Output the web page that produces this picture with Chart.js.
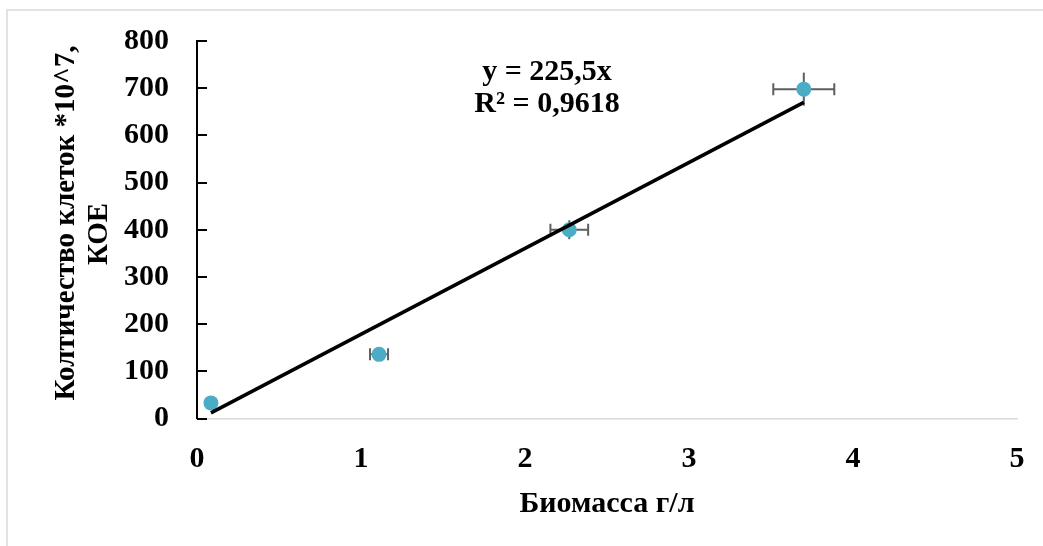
<!DOCTYPE html>
<html>
<head>
<meta charset="utf-8">
<script src="https://cdn.jsdelivr.net/npm/chart.js@4.4.0/dist/chart.umd.min.js"></script>
<style>
html,body{margin:0;padding:0;background:#fff;}
#wrap{width:1043px;height:546px;position:relative;}
</style>
</head>
<body>
<div id="wrap"><canvas id="c" width="1043" height="546"></canvas></div>
<script>
// Data
const biomass = [0.085, 1.11, 2.27, 3.70];      // x, г/л
const cells = [33, 136, 400, 698];              // y, *10^7 КОЕ
const xErr = [0, 0.055, 0.115, 0.186];
const yErr = [0, 0, 20, 35];
const trendX = [0.085, 3.70];
const trendY = [12, 670];
const xTicks = [0, 1, 2, 3, 4, 5];
const yTicks = [0, 100, 200, 300, 400, 500, 600, 700, 800];
const xTitle = 'Биомасса г/л';
const yTitle = ['Колтичество клеток *10^7,', 'КОЕ'];
const eqLines = ['y = 225,5x', 'R² = 0,9618'];

const FONT = '"Liberation Serif", "Times New Roman", serif';

const extras = {
  id: 'extras',
  beforeDraw(chart) {
    const ctx = chart.ctx;
    ctx.save();
    ctx.fillStyle = '#fff';
    ctx.fillRect(0, 0, chart.width, chart.height);
    ctx.strokeStyle = '#d9d9d9';
    ctx.lineWidth = 1.5;
    ctx.beginPath();
    ctx.moveTo(7, chart.height);
    ctx.lineTo(7, 10);
    ctx.lineTo(chart.width, 10);
    ctx.stroke();
    ctx.restore();
  },
  beforeDatasetsDraw(chart) {
    const ctx = chart.ctx;
    const xs = chart.scales.x, ys = chart.scales.y;
    ctx.save();
    ctx.strokeStyle = '#5f5f5f';
    ctx.lineWidth = 2;
    const cap = 6;
    biomass.forEach((bx, i) => {
      const px = xs.getPixelForValue(bx), py = ys.getPixelForValue(cells[i]);
      if (xErr[i] > 0) {
        const l = xs.getPixelForValue(bx - xErr[i]), r = xs.getPixelForValue(bx + xErr[i]);
        ctx.beginPath();
        ctx.moveTo(l, py); ctx.lineTo(r, py);
        ctx.moveTo(l, py - cap); ctx.lineTo(l, py + cap);
        ctx.moveTo(r, py - cap); ctx.lineTo(r, py + cap);
        ctx.stroke();
      }
      if (yErr[i] > 0) {
        const t = ys.getPixelForValue(cells[i] + yErr[i]), b = ys.getPixelForValue(cells[i] - yErr[i]);
        ctx.beginPath();
        ctx.moveTo(px, t); ctx.lineTo(px, b);
        ctx.stroke();
      }
    });
    ctx.restore();
  },
  afterDraw(chart) {
    const ctx = chart.ctx;
    const ys = chart.scales.y;
    ctx.save();
    ctx.strokeStyle = '#000';
    ctx.lineWidth = 2;
    ys.ticks.forEach(t => {
      const py = Math.round(ys.getPixelForValue(t.value));
      ctx.beginPath();
      ctx.moveTo(ys.right, py);
      ctx.lineTo(ys.right + 10, py);
      ctx.stroke();
    });
    ctx.fillStyle = '#000';
    ctx.textAlign = 'center';
    ctx.textBaseline = 'alphabetic';
    ctx.font = 'bold 30px ' + FONT;
    ctx.fillText(eqLines[0], 547, 80);
    ctx.fillText(eqLines[1], 547, 112);
    ctx.fillText(xTitle, 607, 512);
    ctx.font = 'bold 29px ' + FONT;
    ctx.save();
    ctx.translate(74, 223);
    ctx.rotate(-Math.PI / 2);
    ctx.fillText(yTitle[0], 0, 0);
    ctx.restore();
    ctx.save();
    ctx.translate(107, 234);
    ctx.rotate(-Math.PI / 2);
    ctx.fillText(yTitle[1], 0, 0);
    ctx.restore();
    ctx.restore();
  }
};

new Chart(document.getElementById('c'), {
  type: 'scatter',
  data: {
    datasets: [
      {
        type: 'line',
        data: trendX.map((x, i) => ({x, y: trendY[i]})),
        borderColor: '#000',
        borderWidth: 3.5,
        pointRadius: 0,
        fill: false,
        order: 1
      },
      {
        type: 'scatter',
        data: biomass.map((x, i) => ({x, y: cells[i]})),
        backgroundColor: '#4bacc6',
        borderWidth: 0,
        pointRadius: 7.5,
        pointHoverRadius: 7.5,
        order: 2
      }
    ]
  },
  plugins: [extras],
  options: {
    responsive: false,
    animation: false,
    events: [],
    layout: { autoPadding: false, padding: { top: 41, right: 26, left: 0, bottom: 0 } },
    plugins: { legend: { display: false }, tooltip: { enabled: false } },
    scales: {
      x: {
        type: 'linear', min: 0, max: 5,
        afterFit: s => { s.height = 127.5; s.paddingLeft = 0; s.paddingRight = 0; },
        afterBuildTicks: s => { s.ticks = xTicks.map(v => ({value: v})); },
        grid: { drawOnChartArea: false, drawTicks: false },
        border: { color: '#d9d9d9', width: 1.5 },
        ticks: { color: '#000', padding: 23, font: { family: FONT, size: 30, weight: 'bold' } }
      },
      y: {
        type: 'linear', min: 0, max: 800,
        afterFit: s => { s.width = 197; s.paddingTop = 0; s.paddingBottom = 0; },
        afterBuildTicks: s => { s.ticks = yTicks.map(v => ({value: v})); },
        grid: { drawOnChartArea: false, drawTicks: false },
        border: { color: '#000', width: 2 },
        ticks: { color: '#000', padding: 28, font: { family: FONT, size: 30, weight: 'bold' } }
      }
    }
  }
});
</script>
</body>
</html>
